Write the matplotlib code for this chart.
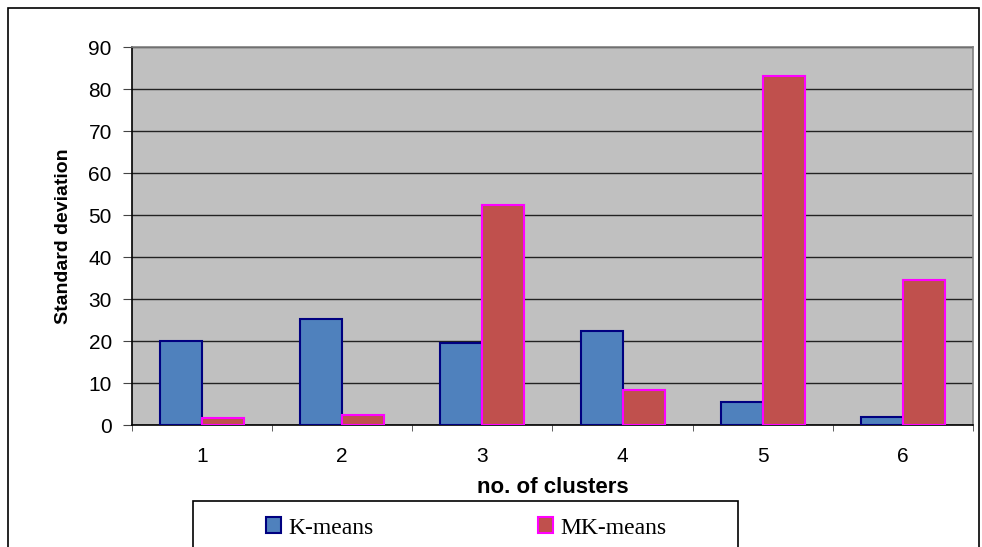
import matplotlib.pyplot as plt
import numpy as np
from matplotlib.patches import Rectangle, Patch

# data
clusters = ['1', '2', '3', '4', '5', '6']
kmeans = [20.0, 25.2, 19.6, 22.3, 5.6, 2.0]
mkmeans = [1.6, 2.4, 52.5, 8.4, 83.2, 34.5]

fig = plt.figure(figsize=(9.82, 5.47), dpi=100)
ax = fig.add_axes([0.1344, 0.223, 0.8564, 0.691])

x = np.arange(len(clusters))
w = 0.3
ax.bar(x - w / 2, kmeans, w, color='#4f81bd', edgecolor='#000080', linewidth=1.5, zorder=3)
ax.bar(x + w / 2, mkmeans, w, color='#c0504d', edgecolor='#ff00ff', linewidth=1.5, zorder=3)

ax.set_facecolor('#c0c0c0')
ax.set_xlim(-0.5, len(clusters) - 0.5)
ax.set_ylim(0, 90)
ax.set_yticks(np.arange(0, 91, 10))
ax.yaxis.grid(True, color='#222222', linewidth=1)
ax.set_axisbelow(True)

# category labels at centres, ticks between groups
ax.set_xticks(x)
ax.set_xticklabels(clusters, fontsize=15, family='Liberation Sans')
ax.set_xticks(np.arange(-0.5, len(clusters)), minor=True)
ax.tick_params(axis='x', which='major', length=0, pad=16)
ax.tick_params(axis='x', which='minor', length=4.5, color='#444444')
ax.tick_params(axis='y', length=6.5, pad=8, color='#444444', labelsize=15)
for lab in ax.get_yticklabels():
    lab.set_family('Liberation Sans')

ax.spines['left'].set_color('black')
ax.spines['bottom'].set_color('black')
ax.spines['top'].set_color('#808080')
ax.spines['right'].set_color('#808080')
for s in ax.spines.values():
    s.set_linewidth(1.2)

ax.set_xlabel('no. of clusters', fontsize=16, fontweight='bold', family='Liberation Sans')
ax.set_ylabel('Standard deviation', fontsize=14, fontweight='bold', family='Liberation Sans')
ax.xaxis.set_label_coords(0.5, -0.137)
ax.yaxis.set_label_coords(-0.071, 0.5)

# outer chart border
fig.patches.append(Rectangle((8 / 982, -0.05), 971 / 982, 1.05 - 8 / 547, transform=fig.transFigure,
                             fill=False, edgecolor='black', linewidth=1.2))
# legend box
fig.patches.append(Rectangle((193 / 982, -0.05), 545 / 982, 0.05 + (547 - 501) / 547, transform=fig.transFigure,
                             fill=False, edgecolor='black', linewidth=1.2))

handles = [Patch(facecolor='#4f81bd', edgecolor='#000080', linewidth=1.5, label='K-means'),
           Patch(facecolor='#c0504d', edgecolor='#ff00ff', linewidth=1.5, label='MK-means')]
legend_x = [266 / 982, 538 / 982]
for h, lx in zip(handles, legend_x):
    fig.legend(handles=[h], loc='center left', bbox_to_anchor=(lx, 1 - 528 / 547),
               frameon=False, prop={'family': 'Liberation Serif', 'size': 17}, handlelength=0.65,
               handleheight=0.65, handletextpad=0.3, borderaxespad=0, borderpad=0)

fig.savefig('out.png', dpi=100)
